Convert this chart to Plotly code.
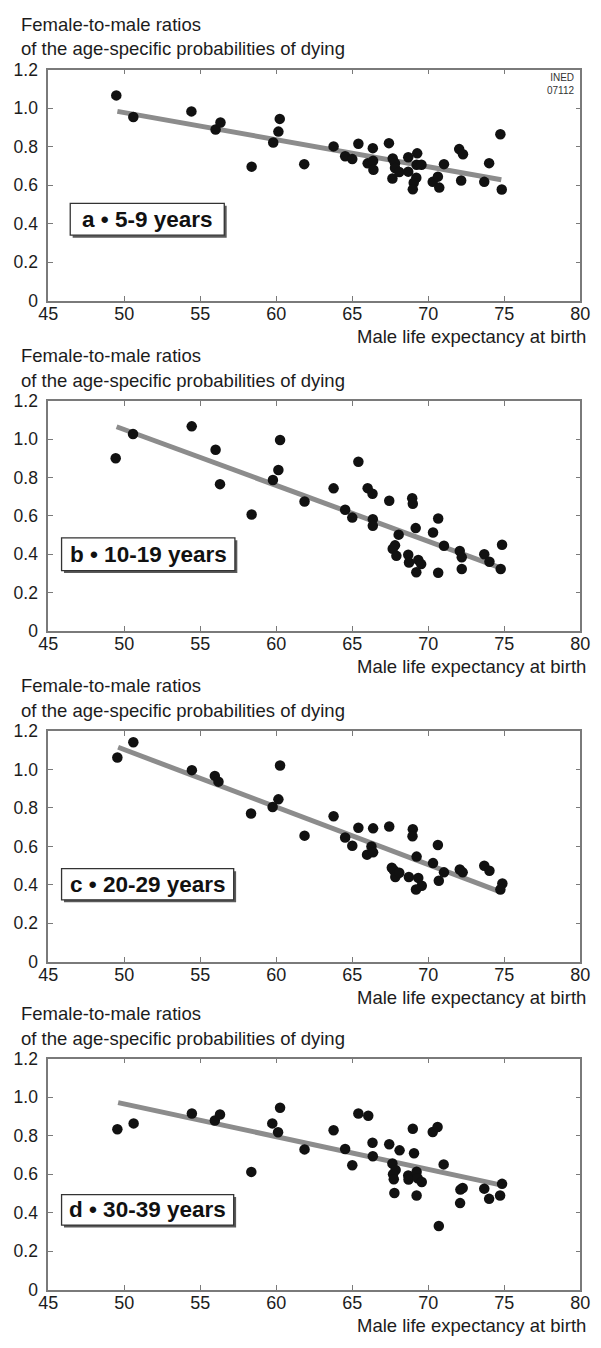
import plotly.graph_objects as go

# ---------------- data ----------------
x_a = [49.48, 50.6, 54.42, 56.01, 56.33, 58.38, 59.80, 60.14, 60.23, 61.84, 63.77, 64.53, 65.0, 65.40, 66.01,
       66.35, 66.37, 66.39, 67.41, 67.66, 67.64, 67.81, 67.81, 68.09, 68.68, 68.68, 69.27, 69.23, 69.55, 69.21,
       69.04, 68.98, 70.29, 70.63, 70.72, 71.03, 72.03, 72.28, 72.16, 73.68, 74.0, 74.74, 74.83]
y_a = [1.066, 0.954, 0.983, 0.889, 0.925, 0.696, 0.821, 0.878, 0.944, 0.709, 0.801, 0.75, 0.735, 0.815, 0.713,
       0.792, 0.726, 0.68, 0.818, 0.738, 0.634, 0.714, 0.689, 0.668, 0.745, 0.670, 0.765, 0.706, 0.706, 0.638,
       0.612, 0.578, 0.617, 0.644, 0.587, 0.709, 0.787, 0.760, 0.624, 0.617, 0.714, 0.864, 0.577]

x_b = [49.44, 50.58, 54.44, 56.01, 56.3, 58.38, 59.78, 60.14, 60.25, 61.86, 63.77, 64.53, 65.0, 65.40, 66.01,
       66.33, 66.35, 66.35, 67.43, 67.81, 67.66, 67.9, 68.05, 68.68, 68.73, 68.94, 68.98, 69.17, 69.34, 69.53,
       69.21, 70.31, 70.65, 70.65, 71.03, 72.07, 72.2, 72.2, 73.68, 74.02, 74.85, 74.76]
y_b = [0.901, 1.028, 1.068, 0.946, 0.766, 0.607, 0.788, 0.840, 0.997, 0.675, 0.744, 0.632, 0.591, 0.883, 0.745,
       0.716, 0.583, 0.548, 0.679, 0.446, 0.428, 0.391, 0.502, 0.397, 0.356, 0.692, 0.663, 0.536, 0.369, 0.348,
       0.305, 0.513, 0.586, 0.303, 0.444, 0.416, 0.384, 0.322, 0.399, 0.360, 0.449, 0.322]

x_c = [49.55, 50.6, 54.45, 55.96, 56.2, 58.34, 59.76, 60.14, 60.25, 61.86, 63.77, 64.53, 65.0, 65.40, 65.97,
       66.26, 66.37, 66.37, 67.43, 67.6, 67.75, 67.92, 67.83, 68.09, 68.72, 68.98, 68.96, 69.23, 69.34, 69.57,
       69.19, 70.31, 70.63, 70.69, 71.03, 72.07, 72.26, 73.68, 74.02, 74.87, 74.74]
y_c = [1.063, 1.142, 0.997, 0.967, 0.937, 0.771, 0.805, 0.845, 1.021, 0.656, 0.757, 0.646, 0.603, 0.697, 0.557,
       0.600, 0.694, 0.569, 0.704, 0.489, 0.475, 0.455, 0.441, 0.463, 0.441, 0.689, 0.653, 0.547, 0.436, 0.395,
       0.376, 0.513, 0.607, 0.421, 0.465, 0.480, 0.465, 0.499, 0.473, 0.407, 0.376]

x_d = [49.55, 50.62, 54.45, 55.96, 56.3, 58.36, 59.74, 60.12, 60.25, 61.86, 63.77, 64.53, 65.0, 65.40, 66.05,
       66.33, 66.35, 67.43, 67.64, 67.85, 67.68, 67.73, 67.77, 68.11, 68.68, 68.7, 68.98, 69.06, 69.23, 69.3,
       69.57, 69.23, 70.29, 70.61, 70.69, 71.01, 72.11, 72.26, 72.09, 73.68, 74.0, 74.85, 74.72]
y_d = [0.834, 0.864, 0.915, 0.879, 0.910, 0.612, 0.864, 0.818, 0.945, 0.729, 0.828, 0.731, 0.647, 0.915, 0.904,
       0.763, 0.693, 0.756, 0.656, 0.622, 0.600, 0.574, 0.502, 0.724, 0.594, 0.572, 0.836, 0.709, 0.613, 0.579,
       0.560, 0.489, 0.819, 0.845, 0.331, 0.651, 0.520, 0.528, 0.450, 0.525, 0.472, 0.550, 0.489]

# fitted lines (endpoints)
fit_x_a = [49.55, 74.8]
fit_y_a = [0.983, 0.628]
fit_x_b = [49.5, 74.7]
fit_y_b = [1.066, 0.330]
fit_x_c = [49.6, 74.7]
fit_y_c = [1.116, 0.365]
fit_x_d = [49.6, 74.66]
fit_y_d = [0.972, 0.546]

panel_labels = ["a \u2022 5-9 years", "b \u2022 10-19 years", "c \u2022 20-29 years", "d \u2022 30-39 years"]

x_ticks = [45, 50, 55, 60, 65, 70, 75, 80]
y_ticks = [0, 0.2, 0.4, 0.6, 0.8, 1.0, 1.2]
y_tick_text = ["0", "0.2", "0.4", "0.6", "0.8", "1.0", "1.2"]

y_title_1 = "Female-to-male ratios"
y_title_2 = "of the age-specific probabilities of dying"
x_title = "Male life expectancy at birth"

# ---------------- layout constants ----------------
W, H = 601, 1348
FONT = "Liberation Sans, Arial, Helvetica, sans-serif"
TXT = "#1c1c1c"
FRAME = "#7a7a7a"

x_left_px, x_right_px = 39.5, 590.0
# (top_px, bottom_px) of each plot frame
panel_px = [(60.5, 295.0), (397.0, 630.0), (732.0, 966.0), (1064.5, 1299.0)]
# label box (x0, x1 in data; y0, y1 in data)
box_pos = [(46.45, 56.58, 0.340, 0.505), (45.88, 57.28, 0.314, 0.485),
           (45.88, 57.20, 0.322, 0.484), (45.88, 57.20, 0.336, 0.494)]

series = [(x_a, y_a, fit_x_a, fit_y_a), (x_b, y_b, fit_x_b, fit_y_b),
          (x_c, y_c, fit_x_c, fit_y_c), (x_d, y_d, fit_x_d, fit_y_d)]

fig = go.Figure()
shapes = []
annotations = []

for i, ((xs, ys, fx, fy), (top, bot)) in enumerate(zip(series, panel_px)):
    n = "" if i == 0 else str(i + 1)
    xa, ya = "x" + n, "y" + n
    fig.add_trace(go.Scatter(x=fx, y=fy, mode="lines", xaxis=xa, yaxis=ya,
                             line=dict(color="#8c8c8c", width=5), showlegend=False, hoverinfo="skip"))
    fig.add_trace(go.Scatter(x=xs, y=ys, mode="markers", xaxis=xa, yaxis=ya,
                             marker=dict(color="#111111", size=10.5, line=dict(width=0)),
                             showlegend=False))
    dom_y = [1 - bot / H, 1 - top / H]
    axis_common = dict(showgrid=False, zeroline=False, showline=True, linecolor=FRAME, linewidth=1.5,
                       mirror="ticks", ticks="inside", ticklen=5, tickwidth=1.2, tickcolor=FRAME,
                       tickfont=dict(family=FONT, size=18, color=TXT))
    fig.layout["xaxis" + n] = dict(axis_common, domain=[x_left_px / W, x_right_px / W], range=[45, 80],
                                   tickvals=x_ticks, anchor=ya, fixedrange=True, ticklabelstandoff=-4)
    fig.layout["yaxis" + n] = dict(axis_common, domain=dom_y, range=[0, 1.2], tickvals=y_ticks,
                                   ticktext=y_tick_text, anchor=xa, fixedrange=True, ticklabelstandoff=5,
                                   tickfont=dict(family=FONT, size=17.5, color=TXT))

    # y titles above the plot
    annotations.append(dict(xref="paper", yref="paper", x=9 / W, y=1 - (top - 46) / H, xanchor="left",
                            yanchor="middle", text=y_title_1, showarrow=False,
                            font=dict(family=FONT, size=18.5, color=TXT)))
    annotations.append(dict(xref="paper", yref="paper", x=9 / W, y=1 - (top - 21) / H, xanchor="left",
                            yanchor="middle", text=y_title_2, showarrow=False,
                            font=dict(family=FONT, size=18.5, color=TXT)))
    # x title
    annotations.append(dict(xref="paper", yref="paper", x=597.5 / W, y=1 - (bot + 36) / H, xanchor="right",
                            yanchor="middle", text=x_title, showarrow=False,
                            font=dict(family=FONT, size=18.5, color=TXT)))
    # label box with shadow
    bx0, bx1, by0, by1 = box_pos[i]
    dx = 2.5 * 35 / (x_right_px - x_left_px)
    dy = 2.5 * 1.2 / (bot - top)
    shapes.append(dict(type="rect", xref=xa, yref=ya, x0=bx0 + dx, x1=bx1 + dx, y0=by0 - dy, y1=by1 - dy,
                       fillcolor="#5a5a5a", line=dict(width=0), layer="above"))
    shapes.append(dict(type="rect", xref=xa, yref=ya, x0=bx0, x1=bx1, y0=by0, y1=by1,
                       fillcolor="white", line=dict(color="#333333", width=1.3), layer="above"))
    annotations.append(dict(xref=xa, yref=ya, x=(bx0 + bx1) / 2, y=(by0 + by1) / 2, xanchor="center",
                            yanchor="middle", text="<b>" + panel_labels[i] + "</b>", showarrow=False,
                            font=dict(family=FONT, size=22.5, color="#111111")))

# INED mark
annotations.append(dict(xref="paper", yref="paper", x=586.5 / W, y=1 - 75 / H, xanchor="right",
                        yanchor="middle", text="INED<br>07112", showarrow=False, align="right",
                        font=dict(family="Liberation Sans Narrow, Arial Narrow, Liberation Sans, sans-serif",
                                  size=10, color="#333333")))

fig.update_layout(width=W, height=H, margin=dict(l=0, r=0, t=0, b=0), paper_bgcolor="white",
                  plot_bgcolor="white", shapes=shapes, annotations=annotations, showlegend=False)

fig.write_html("out.html", config={"displayModeBar": False})
